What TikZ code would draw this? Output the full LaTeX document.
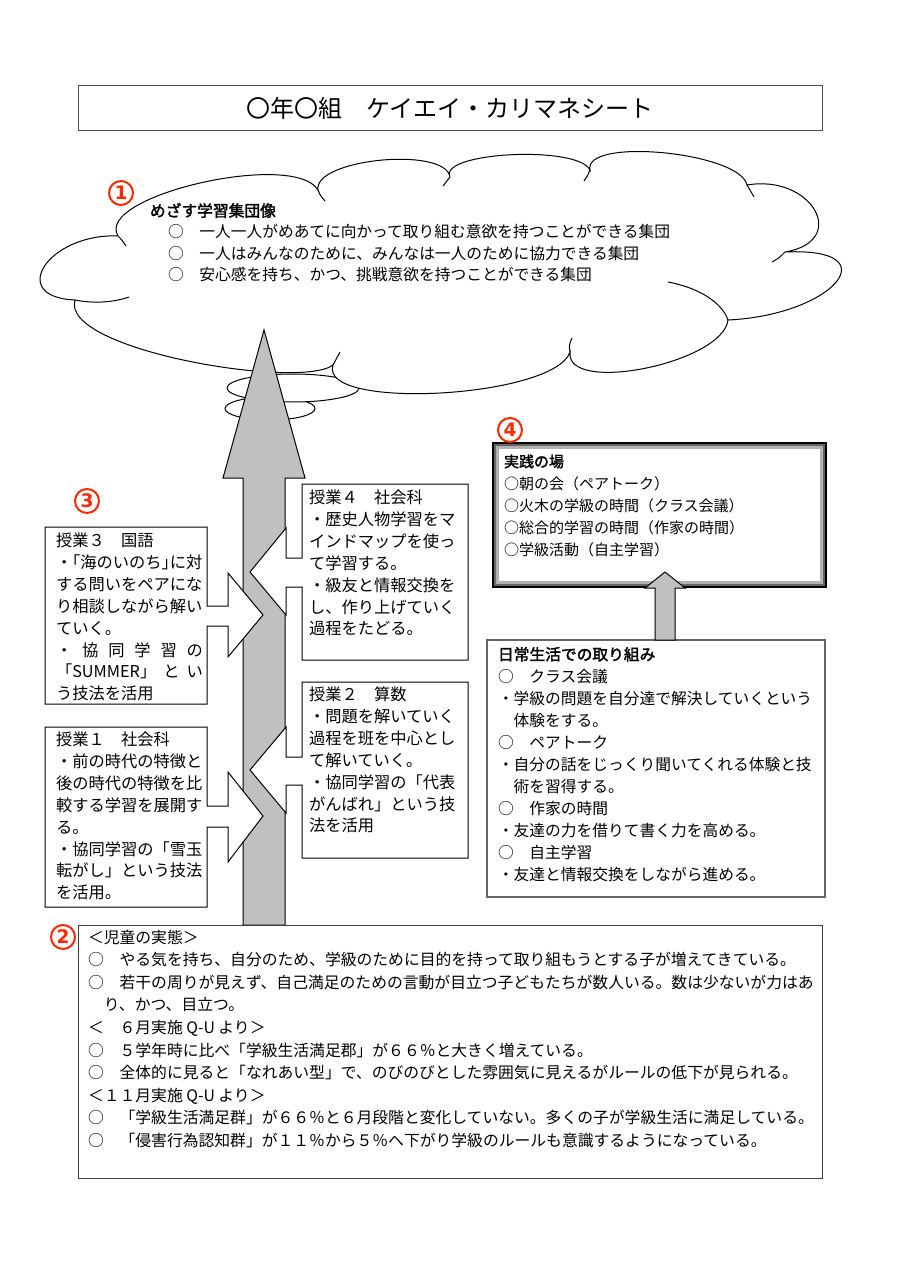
\documentclass[tikz,border=0pt]{standalone}
\usepackage{fontspec}
\setmainfont{Noto Sans CJK JP}
\newfontfamily\jpb[FakeBold=2]{Noto Sans CJK JP}
\newfontfamily\numf{DejaVu Sans}
\definecolor{agray}{RGB}{192,192,192}
\definecolor{nred}{RGB}{255,40,0}
\begin{document}
\begin{tikzpicture}[x=0.75pt,y=-0.75pt,
  line join=miter,
  box/.style={draw=black, line width=0.75pt, fill=white},
  crease/.style={draw=black, line width=0.75pt},
  txt/.style={anchor=north west, inner sep=0pt, outer sep=0pt, align=left},
  jfont/.style={font=\fontsize{12.2pt}{16.4pt}\selectfont},
  arr/.style={draw=black, line width=0.75pt, fill=agray},
  num/.style={circle, draw=nred, line width=1.5pt, text=nred, inner sep=0pt,
    minimum size=18pt, font=\numf\bfseries\fontsize{14pt}{14pt}\selectfont}
]
\useasboundingbox (0,0) rectangle (900,1273);
\fill[white] (0,0) rectangle (900,1273);

% title
\draw[draw=black!70, line width=0.75pt] (78,86) rectangle (822,131);
\node[inner sep=0pt, font=\fontsize{18pt}{18pt}\selectfont] (title) at (450,108.5) {〇年〇組　ケイエイ・カリマネシート};

% cloud tail
\draw[box] (270,408.5) ellipse [x radius=45, y radius=11.5];
\draw[box] (293,388) ellipse [x radius=66, y radius=14];
% cloud
\draw[box] (118,236) .. controls (94,196) and (294,150) .. (318,190)
 .. controls (313,159) and (445,146) .. (450,177)
 .. controls (438,152) and (578,145) .. (590,170)
 .. controls (583,137) and (740,152) .. (747,185)
 .. controls (812,174) and (850,241) .. (785,252)
 .. controls (891,247) and (834,315) .. (728,320)
 .. controls (723,363) and (565,395) .. (570,352)
 .. controls (555,398) and (318,411) .. (333,365)
 .. controls (300,390) and (60,350) .. (75,300)
 .. controls (6,297) and (49,233) .. (118,236) -- cycle;
% cloud creases
\draw[crease] (75,300) .. controls (95,304) and (115,302) .. (129,297);
\draw[crease] (118,236) .. controls (122,240) .. (126,246);
\draw[crease] (318,190) .. controls (320,195) .. (325,201);
\draw[crease] (450,177) .. controls (447,181) .. (443,186);
\draw[crease] (590,170) .. controls (588,175) .. (584,181);
\draw[crease] (747,185) .. controls (750,190) .. (754,197);
\draw[crease] (785,252) .. controls (779,258) .. (772,262);
\draw[crease] (728,320) .. controls (722,303) and (700,288) .. (668,282);
\draw[crease] (570,352) .. controls (569,345) .. (572,338);
\draw[crease] (333,365) .. controls (336,358) .. (340,352);

\node[txt, font=\fontsize{11.8pt}{16pt}\selectfont] (goal) at (150,203) {%
{\jpb めざす学習集団像}\\
\hspace*{13.5pt}○　一人一人がめあてに向かって取り組む意欲を持つことができる集団\\
\hspace*{13.5pt}○　一人はみんなのために、みんなは一人のために協力できる集団\\
\hspace*{13.5pt}○　安心感を持ち、かつ、挑戦意欲を持つことができる集団};
\node[num] (n1) at (121,193) {1};

% big arrow
\draw[arr] (243,925) -- (243,478) -- (223,478) -- (264,330) -- (305,478) -- (285,478) -- (285,925) -- cycle;

% lesson boxes with callouts
\draw[box] (45,527) -- (207,527) -- (207,606) -- (228,606) -- (228,573) -- (263,615) -- (228,657) -- (228,626) -- (207,626) -- (207,704) -- (45,704) -- cycle;
\draw[box] (302,484) -- (468,484) -- (468,660) -- (302,660) -- (302,587) -- (286,587) -- (286,615) -- (250,572) -- (286,528) -- (286,558) -- (302,558) -- cycle;
\draw[box] (302,682) -- (468,682) -- (468,858) -- (302,858) -- (302,785) -- (286,785) -- (286,813) -- (250,770) -- (286,727) -- (286,757) -- (302,757) -- cycle;
\draw[box] (45,727) -- (207,727) -- (207,806) -- (228,806) -- (228,772) -- (263,816) -- (228,862) -- (228,827) -- (207,827) -- (207,907) -- (45,907) -- cycle;

\node[txt, jfont] (l3) at (56,533) {%
授業３　国語\\
・\kern-.5em「海のいのち」\kern-.5em に対\\
する問いをペアにな\\
り相談しながら解い\\
ていく。\\
\makebox[110.25pt][s]{・ 協 同 学 習 の}\\
\makebox[110.25pt][s]{「SUMMER」 と い}\\
う技法を活用};
\node[txt, jfont] (l4) at (309,490) {%
授業４　社会科\\
・歴史人物学習をマ\\
インドマップを使っ\\
て学習する。\\
・級友と情報交換を\\
し、作り上げていく\\
過程をたどる。};
\node[txt, jfont] (l2) at (309,687) {%
授業２　算数\\
・問題を解いていく\\
過程を班を中心とし\\
て解いていく。\\
・協同学習の「代表\\
がんばれ」という技\\
法を活用};
\node[txt, jfont] (l1) at (56,732) {%
授業１　社会科\\
・前の時代の特徴と\\
後の時代の特徴を比\\
較する学習を展開す\\
る。\\
・協同学習の「雪玉\\
転がし」という技法\\
を活用。};
\node[num] (n3) at (87,501) {3};

% practice frame
\fill[black] (492,442) rectangle (827,588);
\fill[black!60] (494,444) rectangle (825,586);
\fill[black!30] (496,446) rectangle (823,584);
\fill[white] (499,449) rectangle (820,581);
\node[txt, font=\fontsize{11.25pt}{16.5pt}\selectfont] (prac) at (504,454.5) {%
{\jpb 実践の場}\\
○朝の会（ペアトーク）\\
○火木の学級の時間（クラス会議）\\
○総合的学習の時間（作家の時間）\\
○学級活動（自主学習）};
\node[num] (n4) at (510,430) {4};

% daily box
\draw[draw=black!60, line width=2pt, fill=white] (487,640) rectangle (825,897);
\draw[arr] (655,640) -- (655,588) -- (645,588) -- (665,572) -- (685,588) -- (675,588) -- (675,640) -- cycle;
\node[txt, font=\fontsize{11.8pt}{16.5pt}\selectfont] (daily) at (498,647) {%
{\jpb 日常生活での取り組み}\\
○　クラス会議\\
・学級の問題を自分達で解決していくという\\
　体験をする。\\
○　ペアトーク\\
・自分の話をじっくり聞いてくれる体験と技\\
　術を習得する。\\
○　作家の時間\\
・友達の力を借りて書く力を高める。\\
○　自主学習\\
・友達と情報交換をしながら進める。};

% children box
\draw[draw=black!75, line width=0.75pt, fill=white] (78,925) rectangle (822,1178);
\node[num] (n2) at (63,937) {2};
\node[txt, font=\fontsize{11.85pt}{16.9pt}\selectfont] (kids) at (88,930) {%
＜児童の実態＞\\
○　やる気を持ち、自分のため、学級のために目的を持って取り組もうとする子が増えてきている。\\
○　若干の周りが見えず、自己満足のための言動が目立つ子どもたちが数人いる。数は少ないが力はあ\\
　り、かつ、目立つ。\\
＜　６月実施 Q-U より＞\\
○　５学年時に比べ「学級生活満足郡」が６６％と大きく増えている。\\
○　全体的に見ると「なれあい型」で、のびのびとした雰囲気に見えるがルールの低下が見られる。\\
＜１１月実施 Q-U より＞\\
○　「学級生活満足群」が６６％と６月段階と変化していない。多くの子が学級生活に満足している。\\
○　「侵害行為認知群」が１１％から５％へ下がり学級のルールも意識するようになっている。};
\end{tikzpicture}
\end{document}
